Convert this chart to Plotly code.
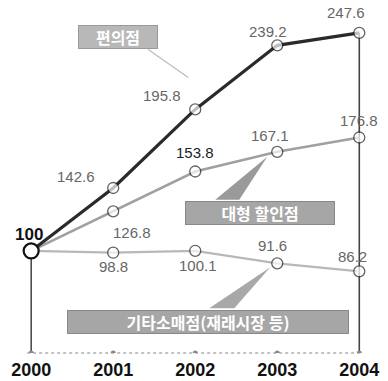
import plotly.graph_objects as go

# Retail sales index (2000 = 100)
years = [2000, 2001, 2002, 2003, 2004]
year_labels = ["2000", "2001", "2002", "2003", "2004"]
convenience = [100, 142.6, 195.8, 239.2, 247.6]
discount = [100, 126.8, 153.8, 167.1, 176.8]
others = [100, 98.8, 100.1, 91.6, 86.2]

name_conv = "편의점"
name_disc = "대형 할인점"
name_other = "기타소매점(재래시장 등)"

Y_LO, Y_HI = 30.9, 269.9
X_LO, X_HI = 1999.62, 2004.35

fig = go.Figure()

# drop lines at both ends of the period
fig.add_trace(go.Scatter(x=[years[0], years[0]], y=[Y_LO, convenience[0]], mode="lines",
                         line=dict(color="#333", width=1.4), hoverinfo="skip"))
fig.add_trace(go.Scatter(x=[years[-1], years[-1]], y=[Y_LO, convenience[-1]], mode="lines",
                         line=dict(color="#444", width=1.6), hoverinfo="skip"))

# dotted base axis with small year dots
fig.add_shape(type="line", xref="paper", yref="paper", x0=0.07, x1=0.93, y0=0, y1=0,
              line=dict(color="#888", width=1.2, dash="dot"))
fig.add_trace(go.Scatter(x=years, y=[Y_LO] * len(years), mode="markers",
                         marker=dict(size=5, color="#888"), hoverinfo="skip"))

series = [
    (others, "#b8b8b8", 2.2),
    (discount, "#a0a0a0", 2.6),
    (convenience, "#2a2a2a", 3.2),
]
for vals, col, w in series:
    fig.add_trace(go.Scatter(
        x=years, y=vals, mode="lines+markers",
        line=dict(color=col, width=w),
        marker=dict(size=[0, 11, 11, 11, 11], color="white",
                    line=dict(color="#222", width=1.3)),
        hoverinfo="skip"))

# the shared 2000 start point
fig.add_trace(go.Scatter(x=[years[0]], y=[convenience[0]], mode="markers",
                         marker=dict(size=15, color="white", line=dict(color="#111", width=2.2)),
                         hoverinfo="skip"))

# value labels: (series, pixel offsets per point)
label_sets = [
    (convenience, [None, (-37, 12), (-33, 14), (-9, 14), (-13, 20)]),
    (discount, [None, (19, -21), (0, 19), (-7, 16), (0, 17)]),
    (others, [None, (0, -14), (3, -15), (-5, 18), (-7, 15)]),
]
for vals, offs in label_sets:
    for x, v, o in zip(years, vals, offs):
        if o is None:
            continue
        dark = (vals is discount and x == 2002)
        fig.add_annotation(x=x, y=v, text=f"{v:.1f}", showarrow=False,
                           xshift=o[0], yshift=o[1],
                           font=dict(family="Liberation Sans", size=15,
                                     color="#222" if dark else "#666"))
fig.add_annotation(x=years[0], y=convenience[0], text="100", showarrow=False,
                   xshift=-2, yshift=16,
                   font=dict(family="Liberation Sans", size=17, color="#111", weight="bold"))

# callout pointers
fig.add_shape(type="line", xref="x", yref="y", xsizemode="pixel", ysizemode="pixel",
              xanchor=years[2], yanchor=convenience[2], x0=-47, y0=60, x1=-7, y1=32,
              line=dict(color="#bbb", width=1.2))
fig.add_shape(type="path", xref="x", yref="y", xsizemode="pixel", ysizemode="pixel",
              xanchor=years[3], yanchor=discount[3],
              path="M -62,-48 L -38,-48 L -10,-5 Z",
              fillcolor="#9a9a9a", line=dict(width=0))
fig.add_shape(type="path", xref="x", yref="y", xsizemode="pixel", ysizemode="pixel",
              xanchor=years[3], yanchor=others[3],
              path="M -68,-45 L -43,-45 L -7,-4 Z",
              fillcolor="#a8a8a8", line=dict(width=0))

# label boxes
box_font = dict(family="Noto Sans CJK KR", size=16, color="white", weight="bold")
fig.add_annotation(x=2001.06, y=244.9, text=name_conv, showarrow=False,
                   width=76, height=20, bgcolor="#b8b8b8", bordercolor="#9a9a9a",
                   borderwidth=1, font=box_font)
fig.add_annotation(x=2002.79, y=125.7, text=name_disc, showarrow=False,
                   width=146, height=20, bgcolor="#a6a6a6", bordercolor="#888",
                   borderwidth=1, font=box_font)
fig.add_annotation(x=2002.15, y=51.9, text=name_other, showarrow=False,
                   width=278, height=20, bgcolor="#a6a6a6", bordercolor="#888",
                   borderwidth=1, font=box_font)

fig.update_layout(
    width=388, height=381,
    margin=dict(l=0, r=0, t=0, b=28),
    paper_bgcolor="white", plot_bgcolor="white",
    showlegend=False,
    xaxis=dict(range=[X_LO, X_HI], tickvals=years, ticktext=year_labels,
               showgrid=False, zeroline=False, showline=False, ticks="",
               ticklabelstandoff=4,
               tickfont=dict(family="Liberation Sans", size=18, color="#111", weight="bold")),
    yaxis=dict(range=[Y_LO, Y_HI], visible=False, showgrid=False, zeroline=False),
)

fig.write_html("out.html")
